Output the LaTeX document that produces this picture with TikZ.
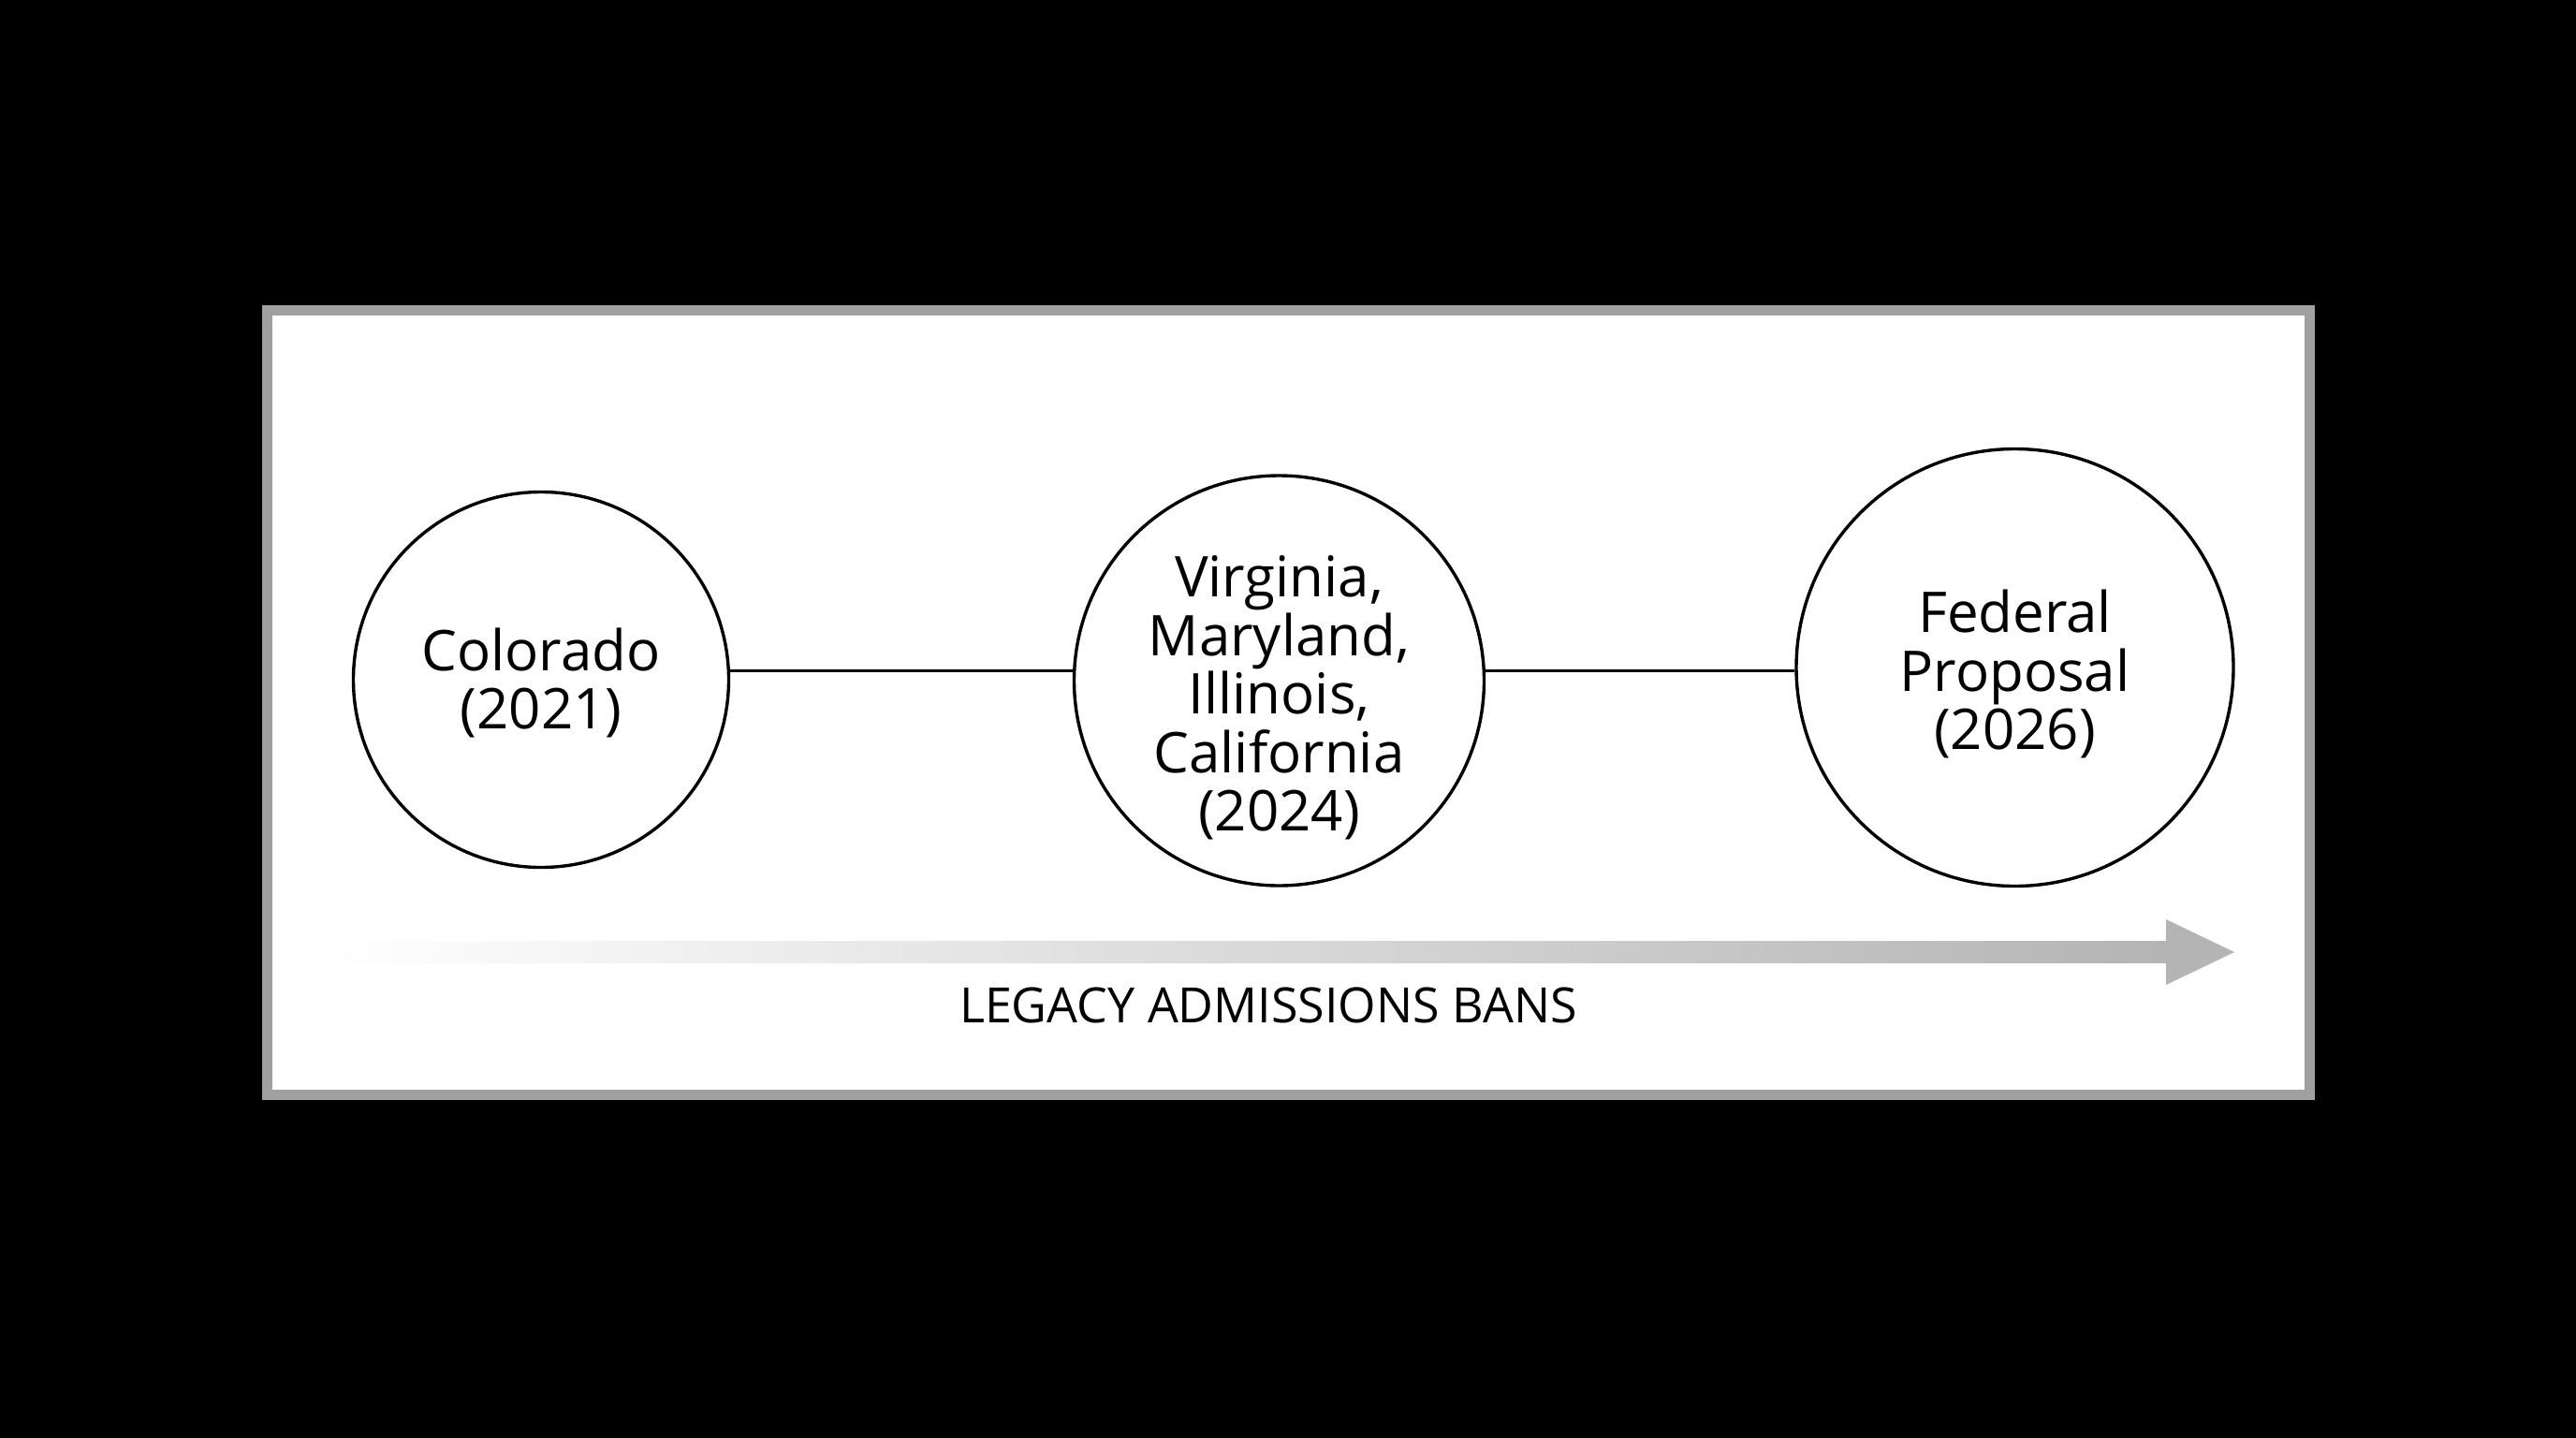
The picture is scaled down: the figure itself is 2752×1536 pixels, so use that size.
\documentclass[tikz,border=0pt]{standalone}
\usepackage{fontspec}
\setmainfont{Open Sans}
\definecolor{framegray}{RGB}{160,160,160}
\definecolor{arrowgray}{RGB}{180,180,180}
\begin{document}
\begin{tikzpicture}[x=1pt,y=-1pt,
  stage/.style={circle, draw=black, line width=3.4pt, fill=white, inner sep=0pt},
  stagetext/.style={align=center, font=\fontsize{60}{62.5}\selectfont, inner sep=0pt},
  link/.style={line width=3.2pt, draw=black},
  caption/.style={font=\fontsize{52}{60}\selectfont, inner sep=0pt, anchor=base}]
\fill[black] (0,0) rectangle (2752,1536);
\useasboundingbox (0,0) rectangle (2752,1536);
\draw[line width=11pt, draw=framegray, fill=white] (285,331) rectangle (2467.5,1169.5);
% circles
\node[stage, minimum size=401pt] (c1) at (578,726) {};
\node[stage, minimum size=438pt] (c2) at (1366.5,727) {};
\node[stage, minimum size=467pt] (c3) at (2152.5,713) {};
% texts
\node[stagetext] (t1) at (578,729.6) {Colorado\\(2021)};
\node[stagetext] (t2) at (1366.5,745.3) {Virginia,\\Maryland,\\Illinois,\\California\\(2024)};
\node[stagetext] (t3) at (2152.5,720.1) {Federal\\Proposal\\(2026)};
% connectors (horizontal, at the same height)
\coordinate (lvl) at (0,716.5);
\draw[link] (c1.east |- lvl) -- (c2.west |- lvl);
\draw[link] (c2.east |- lvl) -- (c3.west |- lvl);
% arrow
\coordinate (as) at (350,1017);
\coordinate (ab) at (2316,1017);
\coordinate (at) at (2387,1017);
\shade[left color=white, right color=arrowgray] (350,1005.5) rectangle (2316,1028.5);
\fill[arrowgray] (2314,982) -- (at) -- (2314,1052) -- cycle;
\node[caption] (cap) at (1355,1092) {LEGACY ADMISSIONS BANS};
\end{tikzpicture}
\end{document}
